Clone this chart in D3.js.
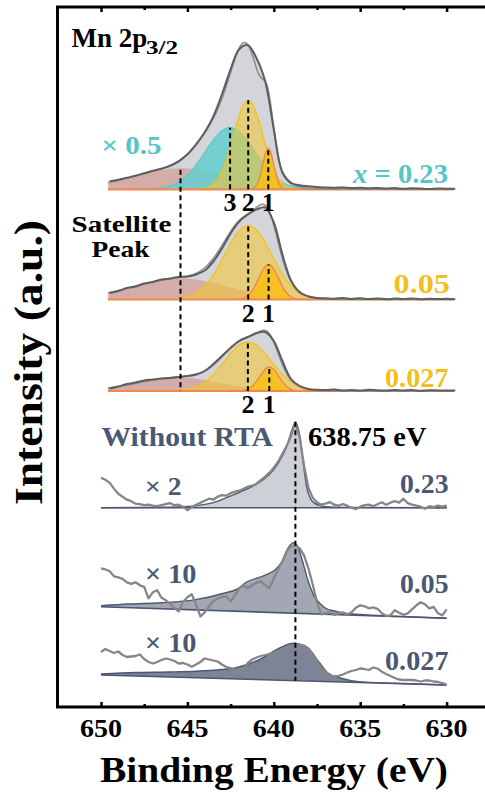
<!DOCTYPE html>
<html>
<head>
<meta charset="utf-8">
<script src="https://cdn.jsdelivr.net/npm/d3@7"></script>
<style>
  body { margin: 0; background: #fff; }
  svg { display: block; }
  text { font-family: "Liberation Serif", "Times New Roman", serif; font-weight: bold; }
</style>
</head>
<body>
<div id="chart"></div>
<script>
// binding energy grids (eV)
const topEnergy = d3.range(649.5, 629.4, -0.5);
const lowEnergy = d3.range(650, 629.9, -0.25);

// RTA-treated samples, Mn 2p3/2 (x = 0.23, 0.05, 0.027)
const specA = [8, 9.5, 11.5, 13.5, 16, 18.5, 20.5, 23.5, 28, 35, 45, 57, 73, 95, 120, 140, 144, 131, 108, 60,
  17, 6.5, 4, 3, 2.2, 1.8, 1.5, 1.9, 1.2, 1.6, 1.0, 1.4, 0.8, 1.2, 0.6, 1.0, 0.7, 0.4, 0.9, 0.5, 0.6];
const specB = [6.5, 8.5, 11.5, 13, 16, 17.5, 20, 21, 22.5, 23, 25, 29, 38, 51, 66, 78, 85, 90, 92, 77,
  45, 19, 7, 3, 1.5, 1.2, 0.8, 1.5, 0.6, 1.2, 0.4, 1.0, 0.3, 0.9, 0.5, 1.1, 0.2, 0.8, 0.4, 0.7, 0.3];
const specC = [2.5, 4.5, 7, 8.5, 10.5, 11.5, 12.5, 13, 14, 15, 16.5, 20, 27, 35, 43, 50, 54, 58, 59, 50,
  30, 12, 5, 2, 1.2, 0.9, 1.4, 0.6, 1.1, 0.5, 1.2, 0.7, 0.4, 1.0, 0.6, 0.9, 0.3, 0.8, 0.5, 0.6, 0.4];

// fitted components: center (eV), height, fwhm (eV)
const peaksA = [
  { id: "sat", center: 645.4, height: 21, fwhm: 6.5 },
  { id: "3", center: 642.53, height: 61.6, fwhm: 3.4 },
  { id: "2", center: 641.48, height: 89, fwhm: 2.0 },
  { id: "1", center: 640.32, height: 41, fwhm: 0.75 }
];
const peaksB = [
  { id: "sat", center: 645.4, height: 21, fwhm: 6.5 },
  { id: "2", center: 641.48, height: 74, fwhm: 3.2 },
  { id: "1", center: 640.3, height: 35, fwhm: 1.35 }
];
const peaksC = [
  { id: "sat", center: 645.5, height: 13.5, fwhm: 5.5 },
  { id: "2", center: 641.5, height: 49, fwhm: 3.2 },
  { id: "1", center: 640.26, height: 24, fwhm: 1.3 }
];

// without RTA (x = 0.23, 0.05, 0.027)
const specD = [30, 28, 25, 19, 14, 11, 8, 6.5, 4, 3.5, 2.5, 3, 2, 1.5, 2.5, 3.5, 4.5, 2.5, 3, 1,
  -2.5, 0.5, 3, 5, 7, 9, 8, 11, 12.5, 12, 14.5, 16, 17, 19, 21, 22, 24, 27.5, 31, 35,
  40, 46, 54, 62, 72, 85, 70, 42, 20, 10, 5.5, 3, 4, 5.5, 3, 2, 3.5, 2, 0, -1.5,
  1, 2.5, 3, 1.5, 3.5, 5.5, 3, 5, 6.5, 5, 9, 4.5, 3, 2, 1, -1, 1.5, 0.5, 2, 1, 2];
const specE = [50, 49, 47, 42, 41, 39.5, 36, 34.5, 36, 33, 31.5, 20, 26, 28, 20.5, 18, 14.5, 10, 7, 16.5,
  21, 24, 14, 2, 6, 12, 17, 19.5, 21.5, 22, 17, 23, 30, 33, 30, 33, 35.5, 37, 33, 30,
  40, 49, 57, 67, 72, 72.5, 70, 63, 50, 34, 16, 4, 5, 6, 3.5, 5, 6, 3.8, 6, 10.5,
  13, 12, 10, 11, 9.5, 5, 2.5, 3, 8, 5.5, 3.5, 5, 9, 13, 16, 14, 10, 11.5, 5, 3, 9];
const specF = [33, 36, 34, 32, 33.5, 30, 28, 28.5, 29, 30.5, 26, 23, 21.5, 23, 25, 26.5, 25.5, 24, 21.5, 22,
  20.5, 18.3, 20.5, 23, 26.5, 25.5, 24.5, 23.5, 20.5, 18, 17, 14, 12, 17, 22, 25.5, 27.5, 29, 30, 31,
  32.5, 34, 36, 38, 39, 40, 40.5, 39.5, 36.5, 30, 24, 17, 12.5, 9.5, 8.5, 9, 10.5, 12.5, 14, 15,
  16.5, 16, 15, 17.5, 16.5, 13.3, 11, 9, 7, 5.5, 5, 5, 5, 4.5, 3.5, 4.5, 4.5, 3.5, 3, 1.8, 0.5];

// fitted peaks (height above background) for the untreated samples
const fitEnergyD = [650, 646, 645, 644.5, 643.5, 642.6, 641.7, 640.7, 640, 639.5, 639.2, 638.95, 638.75,
  638.6, 638.5, 638.3, 638.1, 637.8, 637.4, 637, 636, 630];
const fitD = [0, 0.5, 1.2, 2, 5, 11, 17.5, 27, 38, 52, 64, 78, 85, 80, 72, 45, 21, 7, 2.5, 1, 0.3, 0];
const fitEnergyE = [650, 648.4, 646.5, 644.6, 643, 642, 641.7, 640.5, 639.9, 639.5, 639.2, 638.87, 638.6,
  638.3, 638, 637.7, 637.3, 637, 636.5, 636, 635, 633, 630];
const fitE = [1, 3.6, 6, 9.9, 17, 23.5, 28, 37, 43, 52, 64, 70.5, 66, 50, 32, 19, 10, 6, 3.5, 2, 1, 0.4, 0];
const fitEnergyF = [650, 648, 646, 644.5, 643, 642.25, 641.5, 640.7, 640, 639.5, 639.2, 638.8, 638.4,
  638, 637.4, 636.85, 636.1, 635.1, 633, 630];
const fitF = [1, 3.5, 5, 6.5, 9, 11, 15, 21.3, 29, 33.5, 36, 37.3, 36, 32.7, 19.6, 8.3, 3.7, 0.8, 0.2, 0];

// linear backgrounds: value at 650 eV and at 630 eV
const bgD = [0, 0];
const bgE = [11.6, 0];
const bgF = [10, 0];

const satelliteEnergy = 645.4;
const refEnergy = 638.75;
const offsets = { A: 517.7, B: 407.5, C: 316, D: 199.3, E: 88.7, F: 22 };
const xTicks = [650, 645, 640, 635, 630];
const xMinor = [647.5, 642.5, 637.5, 632.5];

const frame = { left: 57.5, top: 7, bottom: 707, right: 485 };
const slate = "#4b5873";
const cyan = "#55c5c6";
const gold = "#f3bf1c";

const svg = d3.select("#chart").append("svg").attr("width", 485).attr("height", 794);

const x = d3.scaleLinear().domain([650, 630]).range([101, 446.6]);
const y = d3.scaleLinear().domain([0, 700]).range([707, 7]);

const gauss = (e, p) => p.height * Math.exp(-4 * Math.LN2 * ((e - p.center) / p.fwhm) ** 2);
const fine = d3.range(649.6, 629.55, -0.05);

const peakStyle = {
  sat: { fill: "rgba(214,158,148,0.72)", stroke: "none" },
  "3": { fill: "rgba(100,206,207,0.85)", stroke: "#5ccaca" },
  "2": { fill: "rgba(244,198,48,0.55)", stroke: "#f6c310" },
  "1": { fill: "rgba(250,190,20,0.85)", stroke: "#ef8350" }
};

function dashed(e, v0, v1) {
  svg.append("line")
    .attr("x1", x(e)).attr("x2", x(e))
    .attr("y1", y(v0)).attr("y2", y(v1))
    .attr("stroke", "#000").attr("stroke-width", 2)
    .attr("stroke-dasharray", "5,3.5");
}

function drawTop(spec, peaks, off) {
  const g = svg.append("g");
  const pts = topEnergy.map((e, i) => ({ e, v: spec[i] }));
  const smooth = d3.curveCatmullRom.alpha(0.5);

  g.append("path").datum(pts)
    .attr("d", d3.area().curve(smooth).x(d => x(d.e)).y0(y(off)).y1(d => y(off + d.v)))
    .attr("fill", "#d3d5da");

  peaks.forEach(p => {
    const span = p.id === "sat" ? 12 : p.fwhm * 1.7;
    const comp = fine.filter(e => Math.abs(e - p.center) <= span).map(e => ({ e, v: gauss(e, p) }));
    const st = peakStyle[p.id];
    g.append("path").datum(comp)
      .attr("d", d3.area().x(d => x(d.e)).y0(y(off)).y1(d => y(off + d.v)))
      .attr("fill", st.fill);
    if (st.stroke !== "none") {
      g.append("path").datum(comp)
        .attr("d", d3.line().x(d => x(d.e)).y(d => y(off + d.v)))
        .attr("fill", "none").attr("stroke", st.stroke).attr("stroke-width", 1.3);
    }
  });

  const env = fine.map(e => ({ e, v: d3.sum(peaks, p => gauss(e, p)) }));
  g.append("line")
    .attr("x1", x(649.6)).attr("x2", x(629.6))
    .attr("y1", y(off)).attr("y2", y(off))
    .attr("stroke", "#f0894e").attr("stroke-width", 2.2);
  g.append("path").datum(env)
    .attr("d", d3.line().x(d => x(d.e)).y(d => y(off + d.v)))
    .attr("fill", "none").attr("stroke", "#8e8e8e").attr("stroke-width", 1.6);
  g.append("path").datum(pts)
    .attr("d", d3.line().curve(smooth).x(d => x(d.e)).y(d => y(off + d.v)))
    .attr("fill", "none").attr("stroke", "#5e5e5e").attr("stroke-width", 2)
    .attr("stroke-linejoin", "round");

  peaks.filter(p => p.id !== "sat").forEach(p => dashed(p.center, off, off + p.height));
}

function drawLow(spec, fitEnergy, fitVals, bg, off, fill) {
  const g = svg.append("g");
  const bgAt = e => bg[0] + (bg[1] - bg[0]) * (650 - e) / 20;
  const fit = fitEnergy.map((e, i) => ({ e, b: bgAt(e), v: bgAt(e) + fitVals[i] }));

  g.append("path").datum(fit)
    .attr("d", d3.area().curve(d3.curveMonotoneX).x(d => x(d.e)).y0(d => y(off + d.b)).y1(d => y(off + d.v)))
    .attr("fill", fill);
  g.append("line")
    .attr("x1", x(650)).attr("x2", x(630))
    .attr("y1", y(off + bgAt(650))).attr("y2", y(off + bgAt(630)))
    .attr("stroke", slate).attr("stroke-width", 1.6);
  g.append("path").datum(fit)
    .attr("d", d3.line().curve(d3.curveMonotoneX).x(d => x(d.e)).y(d => y(off + d.v)))
    .attr("fill", "none").attr("stroke", slate).attr("stroke-width", 1.4);
  g.append("path").datum(lowEnergy.map((e, i) => ({ e, v: spec[i] })))
    .attr("d", d3.line().x(d => x(d.e)).y(d => y(off + d.v)))
    .attr("fill", "none").attr("stroke", "#868686").attr("stroke-width", 2.3)
    .attr("stroke-linejoin", "round");
  return bgAt;
}

drawTop(specA, peaksA, offsets.A);
drawTop(specB, peaksB, offsets.B);
drawTop(specC, peaksC, offsets.C);
dashed(satelliteEnergy, offsets.A + 19.5, offsets.C);

drawLow(specD, fitEnergyD, fitD, bgD, offsets.D, "#cdd0d6");
drawLow(specE, fitEnergyE, fitE, bgE, offsets.E, "#a2a7b3");
const bgAtF = drawLow(specF, fitEnergyF, fitF, bgF, offsets.F, "#7d8496");
dashed(refEnergy, offsets.D + 86, offsets.F + bgAtF(refEnergy));

// axes: inward ticks top and bottom, labels added below
svg.append("g").attr("transform", `translate(0,${frame.bottom})`)
  .call(d3.axisBottom(x).tickValues(xTicks).tickSize(-5).tickFormat(""));
svg.append("g").attr("transform", `translate(0,${frame.bottom})`)
  .call(d3.axisBottom(x).tickValues(xMinor).tickSize(-3).tickFormat(""));
svg.append("g").attr("transform", `translate(0,${frame.top})`)
  .call(d3.axisTop(x).tickValues(xTicks).tickSize(-5).tickFormat(""));
svg.append("g").attr("transform", `translate(0,${frame.top})`)
  .call(d3.axisTop(x).tickValues(xMinor).tickSize(-3).tickFormat(""));
svg.selectAll(".domain").remove();
svg.selectAll(".tick line").attr("stroke", "#000").attr("stroke-width", 2.5);
svg.selectAll(".tick text").remove();

// frame (open on the right)
svg.append("path")
  .attr("d", `M${frame.right},${frame.top}H${frame.left}V${frame.bottom}H${frame.right}`)
  .attr("fill", "none").attr("stroke", "#000").attr("stroke-width", 3);

// text
function label(txt, x0, y0, size, color, len, anchor) {
  const t = svg.append("text")
    .attr("x", x0).attr("y", y0)
    .attr("font-size", size + "px").attr("fill", color)
    .attr("text-anchor", anchor || "start")
    .text(txt);
  if (len) t.attr("textLength", len).attr("lengthAdjust", "spacingAndGlyphs");
  return t;
}

xTicks.forEach(t => label(d3.format("d")(t), x(t) - 21, 737, 26, "#000", 42));

label("Mn 2p", 71.5, 46.5, 27, "#000");
label("3/2", 146, 54, 19, "#000", 32);
label("\u00d7 0.5", 101.5, 154, 26, cyan, 60);
const xLab = label("", 353, 183.3, 28, cyan, 95);
xLab.append("tspan").attr("font-style", "italic").text("x");
xLab.append("tspan").text(" = 0.23");

peaksA.filter(p => p.id !== "sat").forEach(p => label(p.id, x(p.center), 210.5, 26, "#000", null, "middle"));
peaksB.filter(p => p.id !== "sat").forEach(p => label(p.id, x(p.center), 321.5, 26, "#000", null, "middle"));
peaksC.filter(p => p.id !== "sat").forEach(p => label(p.id, x(p.center), 413, 26, "#000", null, "middle"));

label("Satellite", 71.5, 232, 23, "#000", 100);
label("Peak", 91.5, 257, 23, "#000", 58);
label("0.05", 393.5, 293.3, 27, gold, 56.5);
label("0.027", 385, 386.7, 27, gold, 63.5);

label("Without RTA", 101.5, 446, 28, slate, 171.5);
label("638.75 eV", 308, 446, 28, "#000", 118.5);
label("\u00d7 2", 145, 495, 26, slate, 36.5);
label("0.23", 400, 493.3, 28, slate, 48.5);
label("\u00d7 10", 145, 582.7, 27, slate, 51.5);
label("0.05", 400, 593.3, 28, slate, 48.5);
label("\u00d7 10", 145, 651.7, 27, slate, 51.5);
label("0.027", 385, 670, 28, slate, 63.5);

label("Binding Energy (eV)", 100, 781.5, 36, "#000", 348);
svg.append("text")
  .attr("transform", "translate(42,505) rotate(-90)")
  .attr("font-size", "40px").attr("fill", "#000")
  .attr("textLength", 285).attr("lengthAdjust", "spacingAndGlyphs")
  .text("Intensity (a.u.)");
</script>
</body>
</html>
